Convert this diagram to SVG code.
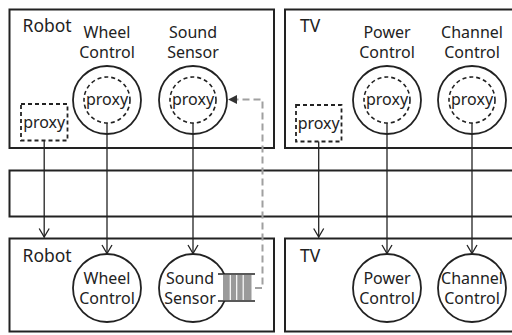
<svg xmlns="http://www.w3.org/2000/svg" width="512" height="335" viewBox="0 0 512 335">
<defs>
<style>
.box{fill:none;stroke:#222;stroke-width:2}
.circ{fill:#fff;stroke:#222;stroke-width:1.8}
.dcirc{fill:none;stroke:#222;stroke-width:1.6;stroke-dasharray:4 3}
.drect{fill:none;stroke:#222;stroke-width:1.8;stroke-dasharray:4 3}
.t{font-family:"Noto Sans","Open Sans",sans-serif;font-size:16px;fill:#222;text-anchor:middle}
.title{font-family:"Noto Sans","Open Sans",sans-serif;font-size:17.5px;fill:#222}
.conn{fill:none;stroke:#222;stroke-width:1.3}
.gdash{fill:none;stroke:#a0a0a0;stroke-width:2;stroke-dasharray:7 4}
</style>
<marker id="arr" viewBox="0 0 10 12" refX="10" refY="6" markerWidth="10" markerHeight="12" markerUnits="userSpaceOnUse" orient="auto">
<path d="M1 1 L9.5 6 L1 11" fill="none" stroke="#222" stroke-width="1.3"/>
</marker>
<marker id="garr" viewBox="0 0 10 10" refX="9" refY="5" markerWidth="9" markerHeight="9" markerUnits="userSpaceOnUse" orient="auto">
<path d="M0 0 L10 5 L0 10 Z" fill="#333"/>
</marker>
</defs>
<rect width="512" height="335" fill="#fff"/>

<g id="robot-top">
<rect class="box" x="9.5" y="9.5" width="264.5" height="138.5"/>
<text class="title" x="22.5" y="32">Robot</text>
</g>
<g id="tv-top">
<rect class="box" x="285" y="9.5" width="240" height="138.5"/>
<text class="title" x="300" y="32">TV</text>
</g>
<g id="middle">
<rect class="box" x="9.5" y="170.5" width="520" height="46"/>
</g>
<g id="robot-bottom">
<rect class="box" x="9.5" y="238.5" width="264.5" height="93"/>
<text class="title" x="22.5" y="262">Robot</text>
</g>
<g id="tv-bottom">
<rect class="box" x="285" y="238.5" width="240" height="93"/>
<text class="title" x="300" y="262">TV</text>
</g>

<g id="robot-proxy">
<rect class="drect" x="21" y="104" width="46.5" height="36.5"/>
<text class="t" x="44.2" y="128">proxy</text>
</g>
<g id="wheel-top">
<text class="t" x="107" y="38">Wheel</text>
<text class="t" x="107" y="57.5">Control</text>
<circle class="circ" cx="107" cy="100" r="34"/>
<circle class="dcirc" cx="107" cy="100" r="23"/>
<text class="t" x="107" y="104.5">proxy</text>
</g>
<g id="sound-top">
<text class="t" x="193" y="38">Sound</text>
<text class="t" x="193" y="57.5">Sensor</text>
<circle class="circ" cx="193" cy="100" r="34"/>
<circle class="dcirc" cx="193" cy="100" r="23"/>
<text class="t" x="193" y="104.5">proxy</text>
</g>
<g id="tv-proxy">
<rect class="drect" x="296" y="105" width="45.5" height="36.5"/>
<text class="t" x="318.7" y="129">proxy</text>
</g>
<g id="power-top">
<text class="t" x="387" y="38">Power</text>
<text class="t" x="387" y="57.5">Control</text>
<circle class="circ" cx="387" cy="100" r="34"/>
<circle class="dcirc" cx="387" cy="100" r="23"/>
<text class="t" x="387" y="104.5">proxy</text>
</g>
<g id="channel-top">
<text class="t" x="472" y="38">Channel</text>
<text class="t" x="472" y="57.5">Control</text>
<circle class="circ" cx="472" cy="100" r="34"/>
<circle class="dcirc" cx="472" cy="100" r="23"/>
<text class="t" x="472" y="104.5">proxy</text>
</g>

<g id="wheel-bottom">
<circle class="circ" cx="107" cy="288" r="34"/>
<text class="t" x="107" y="284">Wheel</text>
<text class="t" x="107" y="303.5">Control</text>
</g>
<g id="sound-bottom">
<circle class="circ" cx="193" cy="288" r="34"/>
<text class="t" x="190" y="284">Sound</text>
<text class="t" x="190" y="303.5">Sensor</text>
<rect x="218" y="274" width="37" height="27" fill="#fff"/>
<rect x="223" y="275" width="28.5" height="25" fill="#9a9a9a"/>
<line x1="230.3" y1="275" x2="230.3" y2="300" stroke="#fff" stroke-width="1.2"/>
<line x1="236.7" y1="275" x2="236.7" y2="300" stroke="#fff" stroke-width="1.2"/>
<line x1="243.2" y1="275" x2="243.2" y2="300" stroke="#fff" stroke-width="1.2"/>
<line x1="218" y1="274" x2="255" y2="274" stroke="#222" stroke-width="1.5"/>
<line x1="218" y1="301" x2="255" y2="301" stroke="#222" stroke-width="1.5"/>
</g>
<g id="power-bottom">
<circle class="circ" cx="387" cy="288" r="34"/>
<text class="t" x="387" y="284">Power</text>
<text class="t" x="387" y="303.5">Control</text>
</g>
<g id="channel-bottom">
<circle class="circ" cx="472" cy="288" r="34"/>
<text class="t" x="472" y="284">Channel</text>
<text class="t" x="472" y="303.5">Control</text>
</g>

<g id="connectors">
<line class="conn" x1="44.2" y1="140.5" x2="44.2" y2="237.5" marker-end="url(#arr)"/>
<line class="conn" x1="107" y1="123" x2="107" y2="254" marker-end="url(#arr)"/>
<line class="conn" x1="193" y1="123" x2="193" y2="254" marker-end="url(#arr)"/>
<line class="conn" x1="318.7" y1="141.5" x2="318.7" y2="237.5" marker-end="url(#arr)"/>
<line class="conn" x1="387" y1="123" x2="387" y2="254" marker-end="url(#arr)"/>
<line class="conn" x1="472" y1="123" x2="472" y2="254" marker-end="url(#arr)"/>
<path class="gdash" d="M255 288 H262.5 V99.5 H229" marker-end="url(#garr)"/>
</g>
</svg>
